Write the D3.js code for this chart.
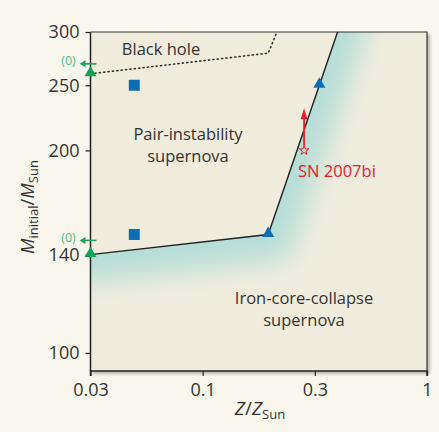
<!DOCTYPE html>
<html lang="en">
<head>
    <meta charset="UTF-8">
    <title>Pair-instability supernova diagram</title>
    <script src="https://d3js.org/d3.v7.min.js"></script>
    <style>
        body {
            margin: 0;
            background: #f9f7ed;
            font-family: 'Open Sans', sans-serif;
            overflow: hidden;
        }
        text { fill: #333; }
    </style>
</head>
<body>
    <script>
        // axis ticks
        const xTicks = [0.03, 0.1, 0.3, 1];
        const xTickLabels = ["0.03", "0.1", "0.3", "1"];
        const yTicks = [100, 140, 200, 250, 300];

        // boundary between pair-instability and iron-core-collapse
        const boundaryZ = [0.03, 0.19, 0.383];
        const boundaryM = [140, 150, 300];
        // black hole limit (dotted)
        const bhZ = [0.03, 0.19, 0.207];
        const bhM = [260, 279, 300];

        // model points
        const blueTriZ = [0.19, 0.315];
        const blueTriM = [150, 250];
        const greenTriZ = [0.03, 0.03];
        const greenTriM = [140, 260];
        const squareZ = [0.048, 0.048];
        const squareM = [250, 150];
        // upper limits at Z = 0 (drawn left of the axis)
        const limitM = [269, 147];

        // SN 2007bi
        const snZ = 0.27, snM = 200, snArrowM = 231;

        const width = 439, height = 432;
        const margin = { left: 90.5, right: 12, top: 32, bottom: 61 };

        const svg = d3.select("body").append("svg")
            .attr("width", width)
            .attr("height", height);

        const x0 = margin.left, x1 = width - margin.right;
        const y0 = margin.top, y1 = height - margin.bottom;

        // ticks sit evenly spaced in the original figure
        const xs = d3.scaleLinear()
            .domain(xTicks.map(Math.log10))
            .range(xTicks.map((d, i) => x0 + i * (x1 - x0) / (xTicks.length - 1)));
        const x = v => xs(Math.log10(v));
        const y = d3.scaleLog().domain([94, 300]).range([y1, y0]);

        const defs = svg.append("defs");
        defs.append("filter").attr("id", "shadow")
            .attr("x", "-5%").attr("y", "-5%").attr("width", "110%").attr("height", "110%")
            .append("feGaussianBlur").attr("stdDeviation", 1.5);
        defs.append("filter").attr("id", "glow")
            .attr("x", "-50%").attr("y", "-50%").attr("width", "200%").attr("height", "200%")
            .append("feGaussianBlur").attr("stdDeviation", 14);

        // plot background with soft shadow
        svg.append("rect")
            .attr("x", x0 + 2).attr("y", y0 + 2)
            .attr("width", x1 - x0 + 1).attr("height", y1 - y0 + 1)
            .attr("fill", "#b8b5aa")
            .attr("filter", "url(#shadow)");
        svg.append("rect")
            .attr("x", x0).attr("y", y0)
            .attr("width", x1 - x0).attr("height", y1 - y0)
            .attr("fill", "#efecde");

        // teal glow below / right of the boundary
        const pts = boundaryZ.map((z, i) => [x(z), y(boundaryM[i])]);
        const below = pts.concat([[x1, y0], [x1, y1], [x0, y1]]);
        defs.append("clipPath").attr("id", "below")
            .append("path").attr("d", "M" + below.join("L") + "Z");
        defs.append("clipPath").attr("id", "plot")
            .append("rect").attr("x", x0).attr("y", y0)
            .attr("width", x1 - x0).attr("height", y1 - y0);

        // stretch the glow stroke past both ends so it stays full at the edges
        const ext = (a, b, k) => [a[0] + (a[0] - b[0]) * k, a[1] + (a[1] - b[1]) * k];
        const n = pts.length;
        const glowPts = [ext(pts[0], pts[1], 0.5)].concat(pts, [ext(pts[n - 1], pts[n - 2], 0.4)]);

        svg.append("g").attr("clip-path", "url(#plot)")
            .append("g").attr("clip-path", "url(#below)")
            .append("path")
            .attr("d", d3.line()(glowPts))
            .attr("fill", "none")
            .attr("stroke", "#b3ddd7")
            .attr("stroke-width", 50)
            .attr("filter", "url(#glow)");

        const line = d3.line().x(d => x(d[0])).y(d => y(d[1]));
        const boundary = boundaryZ.map((z, i) => [z, boundaryM[i]]);

        // frame top and right
        svg.append("path")
            .attr("d", `M${x0},${y0}H${x1}V${y1}`)
            .attr("fill", "none")
            .attr("stroke", "#333")
            .attr("stroke-width", 1.2);

        // axes
        const xAxis = svg.append("g")
            .attr("transform", `translate(0,${y1})`)
            .call(d3.axisBottom(xs)
                .tickValues(xTicks.map(Math.log10))
                .tickFormat((d, i) => xTickLabels[i])
                .tickSize(5).tickPadding(7));
        const yAxis = svg.append("g")
            .attr("transform", `translate(${x0},0)`)
            .call(d3.axisLeft(y)
                .tickValues(yTicks)
                .tickFormat(d3.format("d"))
                .tickSize(5).tickPadding(6));
        [xAxis, yAxis].forEach(g => {
            g.select(".domain").attr("stroke", "#222").attr("stroke-width", 1.5);
            g.selectAll(".tick line").attr("stroke", "#222").attr("stroke-width", 1.2);
            g.selectAll(".tick text")
                .attr("font-family", "'Open Sans', sans-serif")
                .attr("font-size", 18)
                .attr("fill", "#333");
        });
        xAxis.select(".domain").attr("d", `M${x0},5V0H${x1}V5`);
        yAxis.select(".domain").attr("d", `M0,${y0}V${y1}`);

        // axis titles
        const xt = svg.append("text")
            .attr("x", 260).attr("y", 415)
            .attr("text-anchor", "middle")
            .attr("font-size", 19);
        xt.append("tspan").attr("font-style", "italic").text("Z");
        xt.append("tspan").text("/");
        xt.append("tspan").attr("font-style", "italic").text("Z");
        xt.append("tspan").attr("font-size", 13).attr("dy", 4).text("Sun");

        const yt = svg.append("text")
            .attr("transform", "translate(34,207) rotate(-90)")
            .attr("text-anchor", "middle")
            .attr("font-size", 18.5);
        yt.append("tspan").attr("font-style", "italic").text("M");
        yt.append("tspan").attr("font-size", 13).attr("dy", 4).text("initial");
        yt.append("tspan").attr("dy", -4).text("/");
        yt.append("tspan").attr("font-style", "italic").text("M");
        yt.append("tspan").attr("font-size", 13).attr("dy", 4).text("Sun");

        // black hole limit
        svg.append("path")
            .attr("d", line(bhZ.map((z, i) => [z, bhM[i]])))
            .attr("fill", "none")
            .attr("stroke", "#333")
            .attr("stroke-width", 1.6)
            .attr("stroke-dasharray", "1.2,3.2")
            .attr("stroke-linecap", "round");

        // boundary
        svg.append("path")
            .attr("d", line(boundary))
            .attr("fill", "none")
            .attr("stroke", "#222")
            .attr("stroke-width", 1.4);

        // region labels
        const labels = [
            { t: ["Black hole"], x: 161, y: 55 },
            { t: ["Pair-instability", "supernova"], x: 188, y: 140 },
            { t: ["Iron-core-collapse", "supernova"], x: 304, y: 304 }
        ];
        labels.forEach(l => {
            const t = svg.append("text")
                .attr("x", l.x).attr("y", l.y)
                .attr("text-anchor", "middle")
                .attr("font-size", 16.5);
            l.t.forEach((s, i) => t.append("tspan")
                .attr("x", l.x).attr("dy", i ? 22 : 0).text(s));
        });

        // squares
        svg.selectAll(".sq")
            .data(squareZ.map((z, i) => [z, squareM[i]]))
            .enter().append("rect")
            .attr("x", d => x(d[0]) - 5.5)
            .attr("y", d => y(d[1]) - 5.5)
            .attr("width", 11).attr("height", 11)
            .attr("fill", "#0b6fb8");

        const tri = d3.symbol().type(d3.symbolTriangle).size(62);
        svg.selectAll(".bt")
            .data(blueTriZ.map((z, i) => [z, blueTriM[i]]))
            .enter().append("path")
            .attr("d", tri)
            .attr("transform", d => `translate(${x(d[0])},${y(d[1]) - 1})`)
            .attr("fill", "#0b6fb8");

        // upper limits
        limitM.forEach(m => {
            const yy = y(m);
            svg.append("line")
                .attr("x1", x0 + 6).attr("x2", x0 - 6)
                .attr("y1", yy).attr("y2", yy)
                .attr("stroke", "#1ea35a").attr("stroke-width", 1.6);
            svg.append("path")
                .attr("d", `M${x0 - 11},${yy}L${x0 - 5},${yy - 3.5}L${x0 - 5},${yy + 3.5}Z`)
                .attr("fill", "#1ea35a");
            svg.append("text")
                .attr("x", x0 - 22).attr("y", yy + 1.5)
                .attr("text-anchor", "middle")
                .attr("font-size", 12.5)
                .style("fill", "#4cc27c")
                .text("(0)");
        });

        svg.selectAll(".gt")
            .data(greenTriZ.map((z, i) => [z, greenTriM[i]]))
            .enter().append("path")
            .attr("d", tri)
            .attr("transform", d => `translate(${x(d[0])},${y(d[1]) - 1})`)
            .attr("fill", "#13a054");

        // SN 2007bi
        const sx = x(snZ), sy = y(snM);
        svg.append("line")
            .attr("x1", sx).attr("x2", sx)
            .attr("y1", sy - 5).attr("y2", y(snArrowM) + 8)
            .attr("stroke", "#e8202e").attr("stroke-width", 1.8);
        svg.append("path")
            .attr("d", `M${sx},${y(snArrowM)}L${sx - 3.5},${y(snArrowM) + 11}L${sx + 3.5},${y(snArrowM) + 11}Z`)
            .attr("fill", "#e8202e");
        svg.append("path")
            .attr("d", d3.symbol().type(d3.symbolStar).size(28))
            .attr("transform", `translate(${sx},${sy})`)
            .attr("fill", "none")
            .attr("stroke", "#e8202e")
            .attr("stroke-width", 1);
        svg.append("text")
            .attr("x", sx - 6).attr("y", sy + 27)
            .attr("font-size", 16.5)
            .style("fill", "#e8202e")
            .text("SN 2007bi");
    </script>
</body>
</html>
